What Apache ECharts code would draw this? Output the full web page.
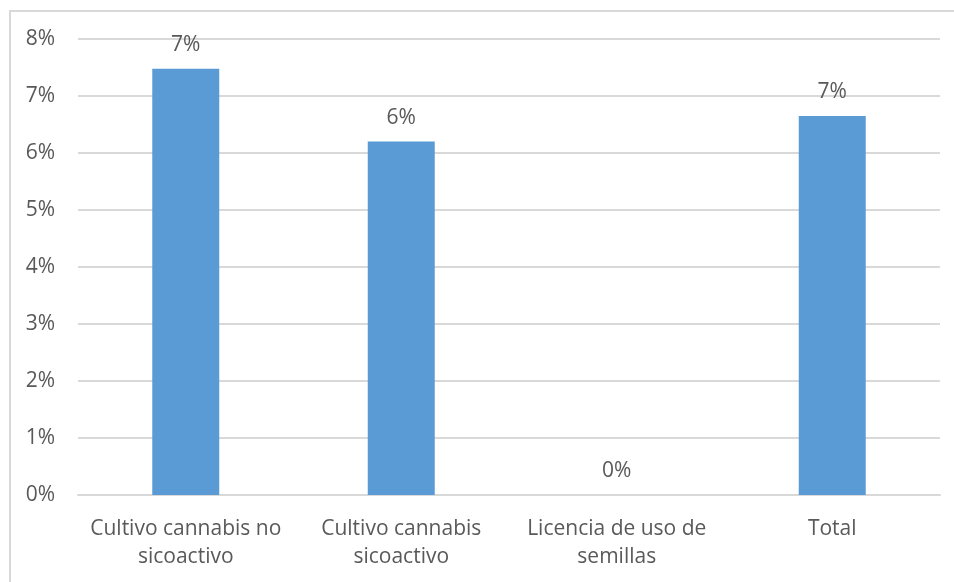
<!DOCTYPE html>
<html><head><meta charset="utf-8">
<script src="https://cdn.jsdelivr.net/npm/echarts@6/dist/echarts.min.js"></script>
<style>html,body{margin:0;padding:0;background:#fff}#frame{position:absolute;left:9px;top:10px;width:960px;height:600px;border:2px solid #d9d9d9;box-sizing:border-box}#c{position:absolute;left:0;top:0;width:954px;height:582px}</style>
</head><body><div id="frame"></div><div id="c"></div>
<script>
const categories = ['Cultivo cannabis no\nsicoactivo', 'Cultivo cannabis\nsicoactivo', 'Licencia de uso de\nsemillas', 'Total'];
const values = [7.48, 6.2, 0, 6.65];
const yTicks = [0, 1, 2, 3, 4, 5, 6, 7, 8];

const chart = echarts.init(document.getElementById('c'), null, {renderer: 'canvas'});
chart.setOption({
  animation: false,
  textStyle: {fontFamily: 'Open Sans', color: '#595959'},
  grid: {left: 78, right: 14, top: 39, bottom: 87, containLabel: false},
  xAxis: {
    type: 'category', data: categories,
    axisLine: {lineStyle: {color: '#d9d9d9', width: 2}},
    axisTick: {show: false},
    axisLabel: {color: '#595959', fontSize: 21, lineHeight: 28, margin: 20, interval: 0}
  },
  yAxis: {
    type: 'value', min: yTicks[0], max: yTicks[yTicks.length - 1], interval: 1,
    axisLine: {show: false}, axisTick: {show: false},
    splitLine: {lineStyle: {color: '#d9d9d9', width: 2}},
    axisLabel: {color: '#595959', fontSize: 21, margin: 23, formatter: v => v + '%'}
  },
  series: [{
    type: 'bar', data: values, barWidth: 67,
    itemStyle: {color: '#5B9BD5'},
    label: {show: true, position: 'top', distance: 13, color: '#595959', fontSize: 21,
      formatter: p => Math.round(p.value) + '%'}
  }]
});
</script></body></html>
